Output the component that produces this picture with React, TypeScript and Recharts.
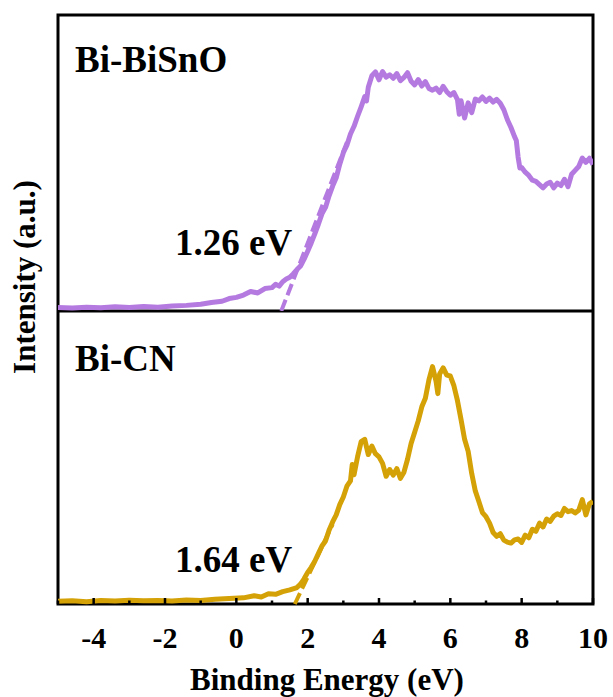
import { Line, LineChart, ReferenceArea, XAxis, YAxis } from "recharts";

// Bi-BiSnO valence band spectrum (top panel)
const bisnoEnergy = [
  -5.0, -4.6, -4.2, -3.8, -3.4, -3.0, -2.6, -2.2, -1.8, -1.4, -1.0, -0.7, -0.4, -0.2, 0.0, 0.2, 0.4, 0.6, 0.8, 1.0,
  1.1, 1.2, 1.3, 1.4, 1.5, 1.6, 1.7, 1.8, 1.9, 2.0, 2.1, 2.2, 2.3, 2.4, 2.5, 2.6, 2.7, 2.8, 2.9, 3.0,
  3.1, 3.2, 3.3, 3.4, 3.5, 3.6, 3.65, 3.7, 3.8, 3.9, 4.0, 4.1, 4.2, 4.3, 4.4, 4.5, 4.6, 4.7, 4.8, 4.9,
  5.0, 5.1, 5.2, 5.3, 5.4, 5.5, 5.6, 5.7, 5.8, 5.9, 6.0, 6.1, 6.2, 6.25, 6.3, 6.4, 6.5, 6.6, 6.7, 6.8,
  6.9, 7.0, 7.1, 7.2, 7.3, 7.4, 7.5, 7.6, 7.7, 7.8, 7.85, 7.9, 7.95, 8.0, 8.1, 8.2, 8.3, 8.4, 8.5, 8.6,
  8.7, 8.8, 8.9, 9.0, 9.1, 9.2, 9.3, 9.4, 9.5, 9.6, 9.7, 9.8, 9.9, 10.0,
];
const bisnoIntensity = [
  1.2, 1.0, 1.3, 1.1, 1.4, 1.2, 1.5, 1.3, 1.7, 1.9, 2.3, 2.9, 3.3, 4.2, 4.6, 5.4, 6.6, 6.1, 7.6, 7.9,
  9.0, 8.4, 9.9, 10.8, 11.4, 12.6, 14.0, 15.2, 17.5, 20.2, 23.0, 26.1, 29.3, 32.8, 35.0, 38.9, 42.2, 45.0, 49.6, 53.5,
  56.0, 59.8, 62.4, 65.8, 69.0, 72.4, 71.0, 75.6, 79.5, 80.8, 78.1, 80.9, 79.0, 79.8, 78.6, 80.2, 77.8, 78.9, 80.5, 77.6,
  76.4, 78.2, 76.0, 77.5, 75.2, 74.6, 75.3, 73.8, 75.9, 74.1, 72.9, 73.8, 71.4, 66.5, 71.0, 65.2, 70.3, 67.0, 71.6, 71.0,
  72.3, 70.8, 71.9, 70.6, 71.5, 70.2, 68.0, 64.6, 62.0, 58.9, 57.6, 52.0, 48.3, 48.5, 46.9, 45.8, 44.2, 43.8, 42.7, 41.6,
  42.9, 43.5, 41.6, 43.2, 42.4, 44.5, 42.0, 46.2, 47.5, 48.8, 51.7, 50.2, 51.6, 49.5,
];
const bisnoEdgeEnergy = [1.26, 3.1];
const bisnoEdgeIntensity = [0, 57];

// Bi-CN valence band spectrum (bottom panel)
const cnEnergy = [
  -5.0, -4.6, -4.2, -3.8, -3.4, -3.0, -2.6, -2.2, -1.8, -1.4, -1.0, -0.6, -0.2, 0.2, 0.5, 0.7, 0.9, 1.1, 1.3, 1.5,
  1.7, 1.8, 1.9, 2.0, 2.1, 2.2, 2.3, 2.4, 2.5, 2.6, 2.7, 2.8, 2.9, 3.0, 3.1, 3.2, 3.25, 3.3, 3.4, 3.5,
  3.6, 3.7, 3.8, 3.9, 4.0, 4.1, 4.2, 4.3, 4.4, 4.5, 4.6, 4.7, 4.8, 4.9, 5.0, 5.1, 5.2, 5.3, 5.4, 5.5,
  5.6, 5.65, 5.7, 5.8, 5.9, 6.0, 6.1, 6.2, 6.3, 6.4, 6.5, 6.6, 6.7, 6.8, 6.9, 7.0, 7.1, 7.2, 7.3, 7.4,
  7.5, 7.6, 7.7, 7.8, 7.9, 8.0, 8.1, 8.2, 8.3, 8.4, 8.5, 8.6, 8.7, 8.8, 8.9, 9.0, 9.1, 9.2, 9.3, 9.4,
  9.5, 9.6, 9.7, 9.8, 9.9, 10.0,
];
const cnIntensity = [
  0.9, 1.1, 0.8, 1.2, 1.0, 1.3, 1.1, 1.2, 1.0, 1.4, 1.2, 1.6, 1.9, 2.1, 2.8, 2.4, 3.5, 3.3, 4.2, 4.8,
  5.6, 6.8, 8.6, 10.8, 12.5, 14.6, 17.2, 19.8, 21.5, 25.2, 28.0, 30.4, 33.9, 36.5, 40.2, 42.0, 47.6, 44.1, 50.3, 55.4,
  56.2, 51.0, 53.9, 51.3, 50.2, 48.0, 43.6, 45.9, 44.0, 46.2, 42.9, 45.0, 49.4, 54.8, 58.6, 62.5, 67.3, 70.2, 76.5, 81.0,
  76.0, 71.8, 78.5, 80.6, 78.1, 77.8, 74.5, 69.4, 63.0, 56.2, 52.1, 44.5, 38.6, 35.0, 31.2, 29.8, 27.6, 24.4, 23.1, 24.0,
  21.8, 21.1, 20.8, 21.9, 22.2, 21.0, 23.5, 22.6, 25.5, 24.8, 27.6, 26.3, 29.0, 28.2, 30.0, 30.8, 30.2, 32.6, 31.5, 31.9,
  31.1, 32.0, 35.6, 30.4, 34.2, 35.0,
];
const cnEdgeEnergy = [1.64, 2.7];
const cnEdgeIntensity = [0, 27.2];

const energyTicks = [-5, -4, -3, -2, -1, 0, 1, 2, 3, 4, 5, 6, 7, 8, 9, 10];

const toPoints = (xs: number[], ys: number[]) => xs.map((x, i) => ({ x, y: ys[i] }));

const serif = "Liberation Serif";
const purple = "#b47ae0";
const gold = "#d4a106";

// inward ticks: major every 2 eV with a label, minor in between
const EnergyTick = (props: any) => {
  const { x, y, payload } = props;
  const major = payload.value % 2 === 0;
  return (
    <g>
      <line x1={x} x2={x} y1={y} y2={y - (major ? 6 : 3.5)} stroke="#000" strokeWidth={2.5} />
      {major && (
        <text x={x} y={y + 44} textAnchor="middle" fontFamily={serif} fontWeight="bold" fontSize={30} fill="#000">
          {payload.value}
        </text>
      )}
    </g>
  );
};

function Panel({
  height,
  top,
  bottomAxis,
  line,
  edge,
  color,
}: {
  height: number;
  top: number;
  bottomAxis: boolean;
  line: Array<{ x: number; y: number }>;
  edge: Array<{ x: number; y: number }>;
  color: string;
}) {
  return (
    <LineChart
      width={613}
      height={height}
      margin={{ top, right: 20, bottom: 0, left: 58 }}
      style={{ position: "absolute", left: 0, top: bottomAxis ? 311 : 0 }}
    >
      <ReferenceArea x1={-5} x2={10} y1={0} y2={100} fill="none" stroke="#000" strokeWidth={3} />
      <XAxis
        type="number"
        dataKey="x"
        domain={[-5, 10]}
        ticks={energyTicks}
        interval={0}
        allowDataOverflow
        hide={!bottomAxis}
        height={bottomAxis ? 93 : 0}
        axisLine={false}
        tickLine={false}
        tickSize={0}
        tickMargin={0}
        tick={<EnergyTick />}
      />
      <YAxis type="number" domain={[0, 100]} hide />
      <Line
        data={line}
        dataKey="y"
        stroke={color}
        strokeWidth={5}
        dot={false}
        strokeLinejoin="round"
        isAnimationActive={false}
      />
      <Line
        data={edge}
        dataKey="y"
        stroke={color}
        strokeWidth={4}
        strokeDasharray="12 5"
        dot={false}
        isAnimationActive={false}
      />
    </LineChart>
  );
}

export default function App() {
  return (
    <div style={{ position: "absolute", left: 0, top: 0, width: 613, height: 697, background: "#fff" }}>
      <Panel
        height={311}
        top={15}
        bottomAxis={false}
        line={toPoints(bisnoEnergy, bisnoIntensity)}
        edge={toPoints(bisnoEdgeEnergy, bisnoEdgeIntensity)}
        color={purple}
      />
      <Panel
        height={386}
        top={0}
        bottomAxis
        line={toPoints(cnEnergy, cnIntensity)}
        edge={toPoints(cnEdgeEnergy, cnEdgeIntensity)}
        color={gold}
      />
      <svg width={613} height={697} style={{ position: "absolute", left: 0, top: 0, pointerEvents: "none" }}>
        <g fontFamily={serif} fontWeight="bold" fill="#000">
          <text x={75} y={72} fontSize={37}>Bi-BiSnO</text>
          <text x={175} y={255} fontSize={37}>1.26 eV</text>
          <text x={75} y={371} fontSize={37}>Bi-CN</text>
          <text x={175} y={572} fontSize={37}>1.64 eV</text>
          <text x={327} y={690} fontSize={31} textAnchor="middle">Binding Energy (eV)</text>
          <text x={0} y={0} fontSize={31} textAnchor="middle" transform="translate(35 277) rotate(-90)">
            Intensity (a.u.)
          </text>
        </g>
      </svg>
    </div>
  );
}
